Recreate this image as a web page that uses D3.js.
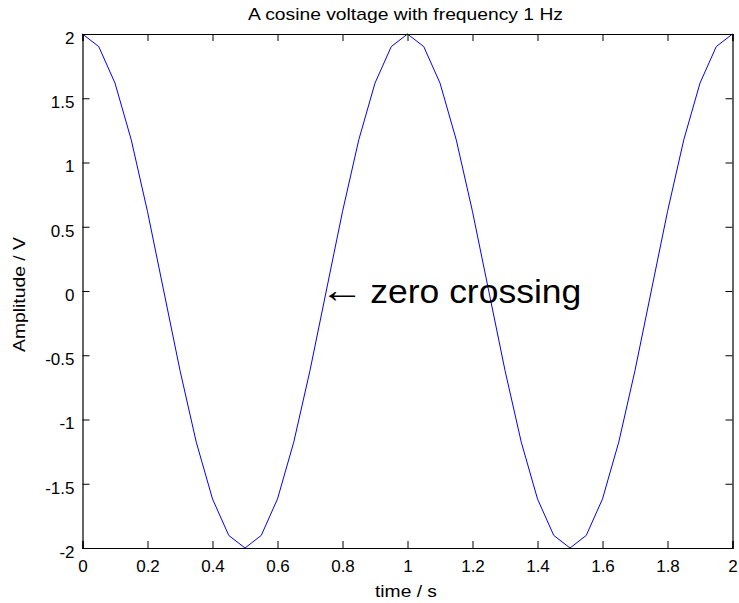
<!DOCTYPE html>
<html>
<head>
<meta charset="utf-8">
<script src="https://cdn.jsdelivr.net/npm/d3@7"></script>
<style>
  body { margin: 0; background: #fff; }
  text { font-family: "Liberation Sans", Arial, sans-serif; fill: #000; }
</style>
</head>
<body>
<div id="chart"></div>
<script>
// sample times (s) and voltage (V)
var time = [0, 0.05, 0.1, 0.15, 0.2, 0.25, 0.3, 0.35, 0.4, 0.45, 0.5,
            0.55, 0.6, 0.65, 0.7, 0.75, 0.8, 0.85, 0.9, 0.95, 1,
            1.05, 1.1, 1.15, 1.2, 1.25, 1.3, 1.35, 1.4, 1.45, 1.5,
            1.55, 1.6, 1.65, 1.7, 1.75, 1.8, 1.85, 1.9, 1.95, 2];
var voltage = [2, 1.902, 1.618, 1.176, 0.618, 0, -0.618, -1.176, -1.618, -1.902, -2,
               -1.902, -1.618, -1.176, -0.618, 0, 0.618, 1.176, 1.618, 1.902, 2,
               1.902, 1.618, 1.176, 0.618, 0, -0.618, -1.176, -1.618, -1.902, -2,
               -1.902, -1.618, -1.176, -0.618, 0, 0.618, 1.176, 1.618, 1.902, 2];
var xTicks = [0, 0.2, 0.4, 0.6, 0.8, 1, 1.2, 1.4, 1.6, 1.8, 2];
var yTicks = [-2, -1.5, -1, -0.5, 0, 0.5, 1, 1.5, 2];

var titleText = "A cosine voltage with frequency 1 Hz";
var xLabel = "time / s";
var yLabel = "Amplitude / V";
var note = {t: 0.75, v: 0, text: "zero crossing"};

var W = 739, H = 603;
var margin = {top: 34, right: 6.5, bottom: 55, left: 82.5};
var width = W - margin.left - margin.right,
    height = H - margin.top - margin.bottom;

var svg = d3.select("#chart")
  .append("svg")
    .attr("width", W)
    .attr("height", H);

var g = svg.append("g")
    .attr("transform", "translate(" + margin.left + "," + margin.top + ")");

var x = d3.scaleLinear().domain([0, 2]).range([0, width]);
var y = d3.scaleLinear().domain([-2, 2]).range([height, 0]);

// line
var pts = time.map(function(t, i) { return [t, voltage[i]]; });
g.append("path")
  .datum(pts)
  .attr("fill", "none")
  .attr("stroke", "#0000ff")
  .attr("stroke-width", 1)
  .attr("d", d3.line().x(function(d) { return x(d[0]); }).y(function(d) { return y(d[1]); }));

// axes, matlab style: ticks inward on all four sides
var fmt = function(d) { return String(d); };
var tl = 7;

var xb = g.append("g").attr("transform", "translate(0," + height + ")")
  .call(d3.axisBottom(x).tickValues(xTicks).tickSize(-tl).tickPadding(12).tickFormat(fmt));
var xt = g.append("g")
  .call(d3.axisTop(x).tickValues(xTicks).tickSize(-tl).tickFormat(""));
var yl = g.append("g")
  .call(d3.axisLeft(y).tickValues(yTicks).tickSize(-tl).tickPadding(8).tickFormat(fmt));
var yr = g.append("g").attr("transform", "translate(" + width + ",0)")
  .call(d3.axisRight(y).tickValues(yTicks).tickSize(-tl).tickFormat(""));

[xb, xt, yl, yr].forEach(function(a) {
  a.select(".domain").attr("stroke", "#000").attr("stroke-width", 1.2);
  a.selectAll(".tick line").attr("stroke", "#000");
  a.selectAll("text").attr("font-family", "Liberation Sans, Arial, sans-serif")
    .attr("font-size", 17).attr("fill", "#000");
});
yl.selectAll("text").attr("dy", "0.55em");
xb.selectAll("text").attr("dy", "0.72em");

// title and labels (the reference glyphs are a bit wide, so stretch to its widths)
svg.append("text")
  .attr("x", 248)
  .attr("y", 20)
  .attr("font-size", 17)
  .attr("textLength", 315)
  .attr("lengthAdjust", "spacingAndGlyphs")
  .text(titleText);

svg.append("text")
  .attr("x", 375)
  .attr("y", 597)
  .attr("font-size", 17)
  .attr("textLength", 62)
  .attr("lengthAdjust", "spacingAndGlyphs")
  .text(xLabel);

svg.append("text")
  .attr("transform", "translate(24.5,352) rotate(-90)")
  .attr("font-size", 17)
  .attr("textLength", 115)
  .attr("lengthAdjust", "spacingAndGlyphs")
  .text(yLabel);

// annotation: arrow then text
g.append("text")
  .attr("x", x(note.t) - 6)
  .attr("y", y(note.v) + 11)
  .attr("font-size", 36)
  .attr("textLength", 44)
  .attr("lengthAdjust", "spacingAndGlyphs")
  .text("\u2190");
g.append("text")
  .attr("x", x(note.t) + 44)
  .attr("y", y(note.v) + 12)
  .attr("font-size", 34)
  .attr("textLength", 211)
  .attr("lengthAdjust", "spacingAndGlyphs")
  .text(note.text);
</script>
</body>
</html>
